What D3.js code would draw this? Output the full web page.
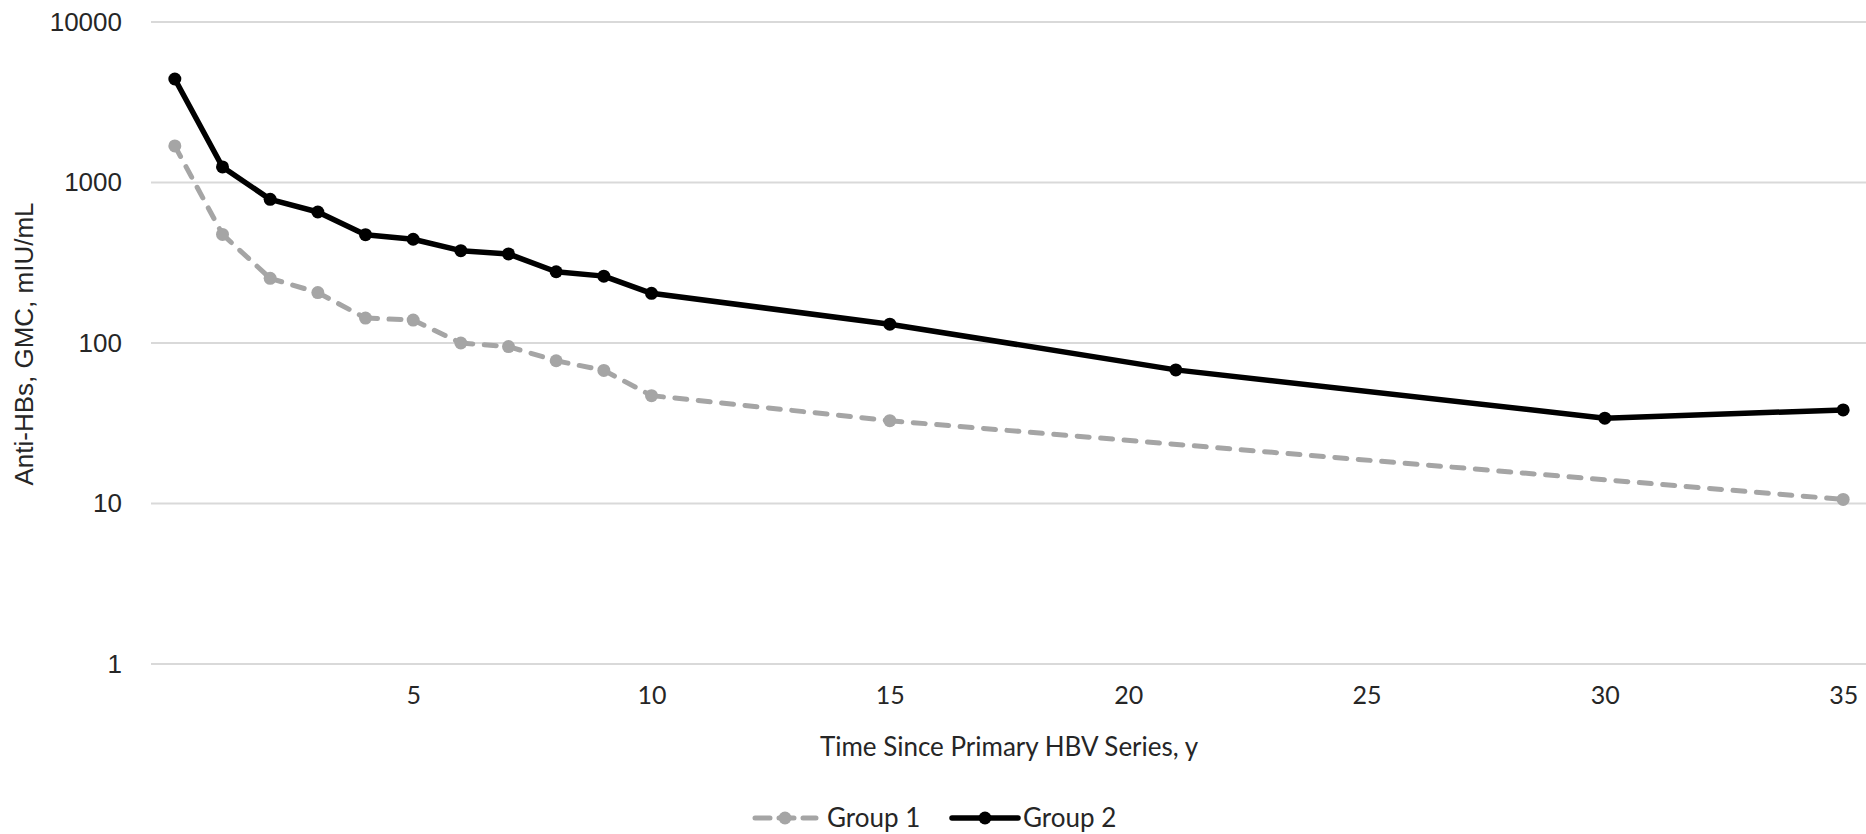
<!DOCTYPE html>
<html>
<head>
<meta charset="utf-8">
<script src="https://cdn.jsdelivr.net/npm/d3@7"></script>
<style>
  body { margin: 0; background: #fff; }
  svg { display: block; }
  .ytick { font-family: "Liberation Sans", Arial, sans-serif; font-size: 26px; fill: #262626; }
  .xtick { font-family: Lato, "Noto Sans", sans-serif; font-size: 25px; fill: #262626; }
  .title { font-family: Lato, "Noto Sans", sans-serif; font-size: 26px; fill: #262626; }
  .ytitle { font-family: "Liberation Sans", Arial, sans-serif; font-size: 26px; fill: #262626; }
  .legend { font-family: Lato, "Noto Sans", sans-serif; font-size: 26px; fill: #262626; }
</style>
</head>
<body>
<script>
var width = 1866,
    height = 834;

// values
var years1 = [0, 1, 2, 3, 4, 5, 6, 7, 8, 9, 10, 15, 35];
var group1 = [1690, 475, 253, 206, 143, 139, 100, 95, 77.5, 67.5, 47, 32.8, 10.6];

var years2 = [0, 1, 2, 3, 4, 5, 6, 7, 8, 9, 10, 15, 21, 30, 35];
var group2 = [4415, 1250, 785, 655, 473, 443, 376, 359, 278, 261, 204, 131, 68, 34, 38.3];

var xTicks = [5, 10, 15, 20, 25, 30, 35];
var yTicks = [1, 10, 100, 1000, 10000];

var seriesNames = ["Group 1", "Group 2"];

var x = d3.scaleLinear()
    .domain([-0.5, 35.5])
    .range([151, 1867]);

var y = d3.scaleLog()
    .domain([1, 10000])
    .range([664, 22]);

var svg = d3.select("body").append("svg")
    .attr("width", width)
    .attr("height", height);

// horizontal gridlines
svg.append("g")
  .selectAll("line")
  .data(yTicks)
  .enter().append("line")
    .attr("x1", x.range()[0])
    .attr("x2", x.range()[1])
    .attr("y1", function(d) { return y(d); })
    .attr("y2", function(d) { return y(d); })
    .attr("stroke", "#d9d9d9")
    .attr("stroke-width", 2);

// y axis labels
var yAxis = d3.axisLeft(y)
    .tickValues(yTicks)
    .tickFormat(d3.format("d"))
    .tickSize(0)
    .tickPadding(0);

svg.append("g")
    .attr("transform", "translate(122,0)")
    .call(yAxis)
    .call(function(g) { g.select(".domain").remove(); })
  .selectAll("text")
    .attr("class", "ytick");

// x axis labels
var xAxis = d3.axisBottom(x)
    .tickValues(xTicks)
    .tickSize(0)
    .tickPadding(0);

svg.append("g")
    .attr("transform", "translate(0,695)")
    .call(xAxis)
    .call(function(g) { g.select(".domain").remove(); })
  .selectAll("text")
    .attr("class", "xtick")
    .attr("dy", "0.35em");

// let the css classes drive the axis text
svg.selectAll("g[font-family]").attr("font-family", null).attr("font-size", null);
svg.selectAll(".tick text").attr("fill", null);

// axis titles
svg.append("text")
    .attr("class", "title")
    .attr("x", 1009)
    .attr("y", 747)
    .attr("dy", "0.35em")
    .attr("text-anchor", "middle")
    .text("Time Since Primary HBV Series, y");

svg.append("text")
    .attr("class", "ytitle")
    .attr("transform", "translate(24,344) rotate(-90)")
    .attr("dy", "0.35em")
    .attr("text-anchor", "middle")
    .text("Anti-HBs, GMC, mIU/mL");

var line = d3.line()
    .x(function(d) { return x(d[0]); })
    .y(function(d) { return y(d[1]); });

var pts1 = d3.zip(years1, group1),
    pts2 = d3.zip(years2, group2);

// group 1: gray dashed, pattern restarts on every segment
svg.append("g")
  .selectAll("path")
  .data(d3.pairs(pts1))
  .enter().append("path")
    .attr("d", line)
    .attr("fill", "none")
    .attr("stroke", "#a5a5a5")
    .attr("stroke-width", 5)
    .attr("stroke-linecap", "round")
    .attr("stroke-dasharray", "12,11.5");

svg.append("g")
  .selectAll("circle")
  .data(pts1)
  .enter().append("circle")
    .attr("cx", function(d) { return x(d[0]); })
    .attr("cy", function(d) { return y(d[1]); })
    .attr("r", 6.5)
    .attr("fill", "#a5a5a5");

// group 2: solid black
svg.append("path")
    .datum(pts2)
    .attr("d", line)
    .attr("fill", "none")
    .attr("stroke", "#000")
    .attr("stroke-width", 5.5)
    .attr("stroke-linejoin", "round");

svg.append("g")
  .selectAll("circle")
  .data(pts2)
  .enter().append("circle")
    .attr("cx", function(d) { return x(d[0]); })
    .attr("cy", function(d) { return y(d[1]); })
    .attr("r", 6.5)
    .attr("fill", "#000");

// legend
var legendY = 818;
var legend = svg.append("g");

var lg1 = legend.append("g");
lg1.append("line")
    .attr("x1", 755).attr("x2", 816)
    .attr("y1", legendY).attr("y2", legendY)
    .attr("stroke", "#a5a5a5")
    .attr("stroke-width", 5)
    .attr("stroke-linecap", "round")
    .attr("stroke-dasharray", "15,9");
lg1.append("circle")
    .attr("cx", 785).attr("cy", legendY)
    .attr("r", 6.5)
    .attr("fill", "#a5a5a5");
lg1.append("text")
    .attr("class", "legend")
    .attr("x", 827).attr("y", legendY)
    .attr("dy", "0.35em")
    .text(seriesNames[0]);

var lg2 = legend.append("g");
lg2.append("line")
    .attr("x1", 952).attr("x2", 1018)
    .attr("y1", legendY).attr("y2", legendY)
    .attr("stroke", "#000")
    .attr("stroke-width", 5.5)
    .attr("stroke-linecap", "round");
lg2.append("circle")
    .attr("cx", 985).attr("cy", legendY)
    .attr("r", 6.5)
    .attr("fill", "#000");
lg2.append("text")
    .attr("class", "legend")
    .attr("x", 1023).attr("y", legendY)
    .attr("dy", "0.35em")
    .text(seriesNames[1]);
</script>
</body>
</html>
